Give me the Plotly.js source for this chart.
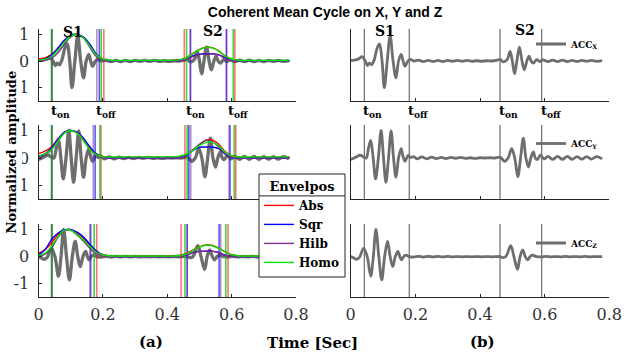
<!DOCTYPE html>
<html><head><meta charset="utf-8">
<script src="https://cdn.plot.ly/plotly-3.0.1.min.js"></script>
<style>html,body{margin:0;padding:0;background:#fff}#chart{width:624px;height:358px}</style>
</head><body><div id="chart"></div>
<script>
// ---- gray accelerometer signals (key points) ----
const tX = [0.000,0.012,0.025,0.035,0.045,0.052,0.058,0.065,0.073,0.081,0.089,0.097,0.104,0.113,0.122,0.131,0.140,0.148,0.156,0.162,0.168,0.176,0.184,0.195,0.210,0.225,0.240,0.255,0.270,0.285,0.300,0.315,0.330,0.345,0.360,0.375,0.390,0.405,0.420,0.435,0.450,0.462,0.472,0.484,0.493,0.500,0.507,0.514,0.522,0.530,0.537,0.545,0.552,0.558,0.565,0.575,0.585,0.595,0.610,0.625,0.640,0.655,0.670,0.685,0.700,0.715,0.730,0.745,0.760,0.778];
const accX = [0.02,0.03,0.08,0.16,0.00,-0.17,-0.08,-0.14,0.05,0.45,0.64,0.00,-1.00,0.00,0.95,0.00,-0.63,0.00,0.25,0.00,-0.20,-0.02,0.06,0.00,0.03,-0.02,0.02,-0.02,0.02,-0.02,0.02,-0.01,0.02,-0.01,0.02,-0.01,0.01,-0.01,0.01,0.00,0.02,0.06,-0.03,0.05,0.36,0.00,-0.48,0.00,0.52,0.00,-0.33,0.00,0.18,0.00,-0.08,0.05,-0.02,0.04,-0.02,0.03,-0.02,0.03,-0.02,0.02,-0.02,0.02,-0.01,0.02,-0.01,0.01];
const tY = [0.000,0.015,0.029,0.040,0.048,0.055,0.062,0.0695,0.077,0.0855,0.094,0.1015,0.109,0.117,0.125,0.1325,0.140,0.148,0.156,0.162,0.168,0.173,0.178,0.185,0.195,0.205,0.220,0.235,0.250,0.265,0.280,0.295,0.310,0.325,0.340,0.355,0.370,0.385,0.400,0.415,0.430,0.445,0.462,0.469,0.476,0.487,0.498,0.5075,0.517,0.5255,0.534,0.542,0.550,0.557,0.565,0.571,0.577,0.587,0.598,0.610,0.625,0.640,0.655,0.670,0.685,0.700,0.715,0.730,0.745,0.760,0.778];
const accY = [-0.05,0.03,0.10,0.04,0.00,0.35,0.64,0.00,-0.76,0.00,1.00,0.00,-0.88,0.00,0.99,0.00,-0.70,0.00,0.34,0.05,-0.12,0.00,0.10,0.02,0.05,-0.03,0.04,-0.03,0.03,-0.02,0.02,-0.02,0.02,-0.01,0.02,-0.01,0.01,-0.01,0.01,0.00,0.01,0.00,0.03,-0.04,-0.12,0.00,0.34,0.00,-0.68,0.00,0.72,0.00,-0.33,0.00,0.22,0.00,-0.06,0.10,-0.03,0.06,-0.05,0.06,-0.05,0.06,-0.05,0.05,-0.04,0.05,-0.04,0.05,-0.03];
const tZ = [0.000,0.010,0.018,0.027,0.040,0.051,0.062,0.070,0.078,0.087,0.096,0.105,0.114,0.122,0.130,0.138,0.146,0.152,0.157,0.165,0.172,0.180,0.195,0.210,0.225,0.240,0.255,0.270,0.285,0.300,0.315,0.330,0.345,0.360,0.375,0.390,0.405,0.420,0.435,0.450,0.462,0.470,0.480,0.495,0.505,0.516,0.524,0.532,0.540,0.547,0.555,0.562,0.575,0.590,0.605,0.620,0.635,0.650,0.665,0.680,0.695,0.710,0.725,0.740,0.755,0.778];
const accZ = [0.00,-0.05,-0.10,-0.03,0.30,0.00,-0.72,0.00,1.00,0.00,-0.86,0.00,0.56,0.00,-0.37,0.00,0.19,0.00,-0.12,0.02,0.05,0.00,-0.02,0.01,-0.02,0.01,-0.01,0.01,-0.01,0.01,-0.01,0.00,-0.01,0.00,-0.01,0.00,-0.01,0.00,-0.01,0.00,0.00,-0.04,0.00,0.40,0.00,-0.47,0.00,0.25,0.00,-0.12,0.00,0.05,0.00,-0.01,0.01,-0.01,0.00,-0.01,0.01,-0.01,0.00,-0.01,0.01,-0.01,0.00,0.00];

// ---- envelopes ----
const tEnv = [0,0.02,0.04,0.06,0.08,0.10,0.12,0.14,0.16,0.18,0.20,0.22,0.26,0.32,0.38,0.42,0.44,0.46,0.48,0.50,0.52,0.54,0.56,0.58,0.60,0.62,0.66,0.72,0.78];
const absX  = [0.08,0.12,0.24,0.47,0.75,0.95,1.00,0.88,0.58,0.24,0.07,0.02,0.01,0.01,0.01,0.02,0.05,0.13,0.29,0.44,0.52,0.50,0.38,0.19,0.06,0.02,0.01,0.01,0.01];
const sqrX  = [0.01,0.08,0.22,0.48,0.78,0.96,1.00,0.90,0.62,0.25,0.05,0.00,0.00,0.00,0.00,0.00,0.02,0.08,0.20,0.26,0.27,0.27,0.24,0.12,0.03,0.00,0.00,0.00,0.00];
const hilbX = [0.00,0.03,0.10,0.30,0.62,0.90,1.00,0.85,0.50,0.16,0.03,0.00,0.00,0.00,0.00,0.00,0.01,0.06,0.17,0.24,0.26,0.26,0.22,0.10,0.02,0.00,0.00,0.00,0.00];
const homoX = [0.04,0.07,0.17,0.40,0.70,0.93,0.99,0.86,0.55,0.22,0.07,0.03,0.02,0.02,0.02,0.03,0.05,0.12,0.28,0.43,0.51,0.49,0.37,0.19,0.07,0.03,0.02,0.02,0.02];
const absY  = [0.16,0.25,0.40,0.68,0.92,1.00,0.92,0.68,0.36,0.15,0.06,0.03,0.02,0.02,0.02,0.03,0.06,0.14,0.30,0.48,0.65,0.66,0.50,0.24,0.08,0.03,0.02,0.02,0.02];
const sqrY  = [0.05,0.15,0.36,0.68,0.94,1.00,0.94,0.72,0.40,0.15,0.03,0.00,0.00,0.00,0.00,0.00,0.02,0.10,0.28,0.39,0.40,0.40,0.34,0.14,0.02,0.00,0.00,0.00,0.00];
const hilbY = [0.02,0.10,0.30,0.62,0.92,1.00,0.92,0.66,0.33,0.10,0.02,0.00,0.00,0.00,0.00,0.00,0.03,0.12,0.30,0.50,0.64,0.60,0.40,0.16,0.03,0.00,0.00,0.00,0.00];
const homoY = [0.08,0.15,0.30,0.60,0.90,1.00,0.90,0.62,0.30,0.12,0.05,0.04,0.04,0.04,0.04,0.05,0.07,0.14,0.28,0.45,0.57,0.58,0.44,0.22,0.08,0.04,0.04,0.04,0.04];
const absZ  = [0.12,0.25,0.50,0.80,0.97,0.98,0.86,0.66,0.42,0.20,0.07,0.03,0.02,0.02,0.02,0.03,0.05,0.12,0.24,0.36,0.43,0.41,0.31,0.18,0.07,0.03,0.02,0.02,0.02];
const sqrZ  = [0.06,0.25,0.62,0.86,0.98,1.00,0.90,0.72,0.45,0.20,0.05,0.01,0.00,0.00,0.00,0.00,0.01,0.06,0.15,0.19,0.20,0.20,0.15,0.05,0.01,0.00,0.00,0.00,0.00];
const hilbZ = [0.03,0.08,0.30,0.70,0.95,0.97,0.80,0.56,0.30,0.10,0.02,0.00,0.00,0.00,0.00,0.00,0.01,0.06,0.15,0.19,0.20,0.19,0.14,0.05,0.01,0.00,0.00,0.00,0.00];
const homoZ = [0.05,0.12,0.37,0.72,0.97,0.97,0.80,0.60,0.36,0.16,0.06,0.03,0.02,0.02,0.02,0.02,0.04,0.10,0.22,0.35,0.42,0.40,0.30,0.17,0.07,0.03,0.02,0.02,0.02];

// ---- onset / offset times [S1 on, S1 off, S2 on, S2 off] ----
const segAbsX  = [0.041,0.203,0.453,0.610];
const segSqrX  = [0.041,0.189,0.472,0.584];
const segHilbX = [0.041,0.181,0.472,0.584];
const segHomoX = [0.041,0.195,0.460,0.605];
const segAbsY  = [0.041,0.194,0.455,0.613];
const segSqrY  = [0.041,0.176,0.467,0.595];
const segHilbY = [0.041,0.170,0.473,0.592];
const segHomoY = [0.041,0.191,0.462,0.608];
const segAbsZ  = [0.041,0.181,0.443,0.589];
const segSqrZ  = [0.041,0.162,0.462,0.561];
const segHilbZ = [0.041,0.160,0.462,0.566];
const segHomoZ = [0.041,0.173,0.455,0.582];
const segRef   = [0.042,0.181,0.462,0.591];

const methods = ["Abs","Sqr","Hilb","Homo"];
const axisNames = ["X","Y","Z"];
const xTicks = [0,0.2,0.4,0.6,0.8];
const xTickText = ["0","0.2","0.4","0.6","0.8"];
const yTicks = [-1,0,1];
const yTickText = ["-1","0","1"];

// ---- styling ----
const YMIN = -1.5, YMAX = 1.2;
const envColors = {Abs:"#ff0000", Sqr:"#0000ff", Hilb:"#7e2f8e", Homo:"#00e600"};
const segColors = {Abs:"rgba(255,0,0,0.55)", Sqr:"rgba(0,0,255,0.65)", Hilb:"rgba(126,47,142,0.55)", Homo:"rgba(0,200,0,0.75)"};
const GRAY = "#6e6e6e";
const AX = "#262626";
const SERIF = "DejaVu Serif";

const signals = [[tX,accX],[tY,accY],[tZ,accZ]];
const envs = [
  {Abs:absX, Sqr:sqrX, Hilb:hilbX, Homo:homoX},
  {Abs:absY, Sqr:sqrY, Hilb:hilbY, Homo:homoY},
  {Abs:absZ, Sqr:sqrZ, Hilb:hilbZ, Homo:homoZ}];
const segs = [
  {Abs:segAbsX, Sqr:segSqrX, Hilb:segHilbX, Homo:segHomoX},
  {Abs:segAbsY, Sqr:segSqrY, Hilb:segHilbY, Homo:segHomoY},
  {Abs:segAbsZ, Sqr:segSqrZ, Hilb:segHilbZ, Homo:segHomoZ}];

function vlines(times){
  const x=[], y=[];
  times.forEach(t=>{x.push(t,t,null); y.push(YMIN,YMAX,null);});
  return {x,y};
}

const traces = [];
for(let r=0;r<3;r++){
  const xl = r===0 ? "x" : "x"+(2*r+1);
  const yl = r===0 ? "y" : "y"+(2*r+1);
  const xr = "x"+(2*r+2), yr = "y"+(2*r+2);
  traces.push({x:signals[r][0], y:signals[r][1], xaxis:xl, yaxis:yl, mode:"lines",
    line:{color:GRAY,width:3.3,shape:"spline",smoothing:1}, showlegend:false, hoverinfo:"skip"});
  methods.forEach(m=>{
    const v = vlines(segs[r][m]);
    traces.push({x:v.x, y:v.y, xaxis:xl, yaxis:yl, mode:"lines",
      line:{color:segColors[m],width:1.6}, showlegend:false, hoverinfo:"skip"});
  });
  methods.forEach(m=>{
    traces.push({x:tEnv, y:envs[r][m], xaxis:xl, yaxis:yl, mode:"lines", name:"<b>"+m+"</b>",
      legendgroup:m, showlegend:r===0, legend:"legend",
      line:{color:envColors[m],width:1.4,shape:"spline",smoothing:1}, hoverinfo:"skip"});
  });
  const v = vlines(segRef);
  traces.push({x:v.x, y:v.y, xaxis:xr, yaxis:yr, mode:"lines",
    line:{color:"#3a3a3a",width:0.9}, showlegend:false, hoverinfo:"skip"});
  traces.push({x:signals[r][0], y:signals[r][1], xaxis:xr, yaxis:yr, mode:"lines",
    name:"<b>ACC<sub>"+axisNames[r]+"</sub></b>", showlegend:true, legend:"legend"+(r+2),
    line:{color:GRAY,width:2.8,shape:"spline",smoothing:1}, hoverinfo:"skip"});
}

const W=624, H=358;
const xDomL=[38.5/W, 296/W], xDomR=[350.7/W, 609.3/W];
const yDoms=[[1-101/H,1-29/H],[1-199.3/H,1-125/H],[1-297.3/H,1-224/H]];

const layout = {
  width:W, height:H, margin:{l:0,r:0,t:0,b:0},
  paper_bgcolor:"#fff", plot_bgcolor:"rgba(0,0,0,0)",
  font:{family:SERIF, color:AX, size:15},
  title:{text:"<b>Coherent Mean Cycle on X, Y and Z</b>", x:325/W, xanchor:"center",
    y:1-12/H, yanchor:"middle", font:{family:"Liberation Sans", size:14, color:"#000"}},
  annotations:[], shapes:[],
  legend:{x:259/W, y:1-174/H, xanchor:"left", yanchor:"top", bgcolor:"rgba(0,0,0,0)",
    borderwidth:0, tracegroupgap:0, itemwidth:30,
    font:{family:SERIF, size:12, color:"#000"},
    title:{text:"<b>Envelpos</b>", side:"top center", font:{family:SERIF,size:13,color:"#000"}}}
};
for(let r=0;r<3;r++){
  layout["legend"+(r+2)] = {x:531/W, y:1-(44+99.5*r)/H, xanchor:"left", yanchor:"middle",
    bgcolor:"rgba(0,0,0,0)", borderwidth:0, font:{family:SERIF,size:9,color:"#000"}};
}
for(let r=0;r<3;r++){
  [0,1].forEach(c=>{
    const idx = 2*r+c+1;
    const xk = idx===1 ? "xaxis" : "xaxis"+idx;
    const yk = idx===1 ? "yaxis" : "yaxis"+idx;
    const yAnchor = idx===1 ? "y" : "y"+idx;
    const xAnchor = idx===1 ? "x" : "x"+idx;
    layout[xk] = {domain: c===0?xDomL:xDomR, anchor:yAnchor, range:[0,0.8],
      showline:true, linecolor:AX, linewidth:1, zeroline:false, showgrid:false,
      ticks:"inside", ticklen:3, tickcolor:AX, tickvals:xTicks, ticktext:xTickText,
      showticklabels: r===2, ticklabelstandoff:2,
      tickfont:{family:SERIF,size:16,color:"#333"}, fixedrange:true};
    layout[yk] = {domain:yDoms[r], anchor:xAnchor, range:[YMIN,YMAX],
      showline:true, linecolor:AX, linewidth:1, zeroline:false, showgrid:false,
      ticks: c===0 ? "inside" : "", ticklen:3, tickcolor:AX, tickvals:yTicks, ticktext:yTickText,
      showticklabels: c===0, ticklabelstandoff:5,
      tickfont:{family:SERIF,size:16,color:"#333"}, fixedrange:true};
  });
}

const bold = (s)=>"<b>"+s+"</b>";
[["S1",73,32],["S2",213,31],["S1",385,31],["S2",525,30]].forEach(a=>{
  layout.annotations.push({text:bold(a[0]), xref:"paper", yref:"paper", x:a[1]/W, y:1-a[2]/H,
    showarrow:false, xanchor:"center", yanchor:"middle", font:{family:SERIF,size:14,color:"#000"}});
});
["x","x2"].forEach(xr=>{
  segRef.forEach((t,i)=>{
    layout.annotations.push({text:"<b>t<sub>"+(i%2===0?"on":"off")+"</sub></b>", xref:xr, yref:"paper",
      x:t-0.009, y:1-101/H, xanchor:"left", yanchor:"top", showarrow:false,
      font:{family:SERIF,size:13,color:"#000"}});
  });
});
layout.annotations.push({text:bold("(a)"), xref:"paper", yref:"paper", x:151/W, y:1-342/H, showarrow:false,
  xanchor:"center", yanchor:"middle", font:{family:SERIF,size:15,color:"#000"}});
layout.annotations.push({text:bold("(b)"), xref:"paper", yref:"paper", x:482/W, y:1-342/H, showarrow:false,
  xanchor:"center", yanchor:"middle", font:{family:SERIF,size:15,color:"#000"}});
layout.annotations.push({text:bold("Time [Sec]"), xref:"paper", yref:"paper", x:312/W, y:1-343/H, showarrow:false,
  xanchor:"center", yanchor:"middle", font:{family:SERIF,size:15,color:"#000"}});
layout.annotations.push({text:bold("Normalized amplitude"), xref:"paper", yref:"paper", x:10.5/W, y:1-152/H, showarrow:false,
  textangle:-90, xanchor:"center", yanchor:"middle", bgcolor:"#fff", borderpad:3,
  font:{family:SERIF,size:13,color:"#000"}});

Plotly.newPlot("chart", traces, layout, {displayModeBar:false, staticPlot:true}).then(gd=>{
  // white framed box behind the envelope legend, with a rule under its header
  const bg = gd.querySelector(".legend .bg");
  const ttl = gd.querySelector(".legend .legendtitletext");
  const host = gd.getBoundingClientRect();
  if(bg){
    const b = bg.getBoundingClientRect();
    const x0 = (b.left-host.left), x1 = (b.right-host.left);
    const y0 = (b.top-host.top), y1 = (b.bottom-host.top);
    let yd = y0 + 20;
    if(ttl){ const tb = ttl.getBoundingClientRect(); yd = tb.bottom - host.top + 2; }
    Plotly.relayout(gd, {shapes:[
      {type:"rect", xref:"paper", yref:"paper", layer:"above", x0:x0/W, x1:x1/W, y0:1-y1/H, y1:1-y0/H,
        fillcolor:"#fff", line:{color:AX, width:1}},
      {type:"line", xref:"paper", yref:"paper", layer:"above", x0:x0/W, x1:x1/W, y0:1-yd/H, y1:1-yd/H,
        line:{color:AX, width:1}}]});
  }
});
</script></body></html>
